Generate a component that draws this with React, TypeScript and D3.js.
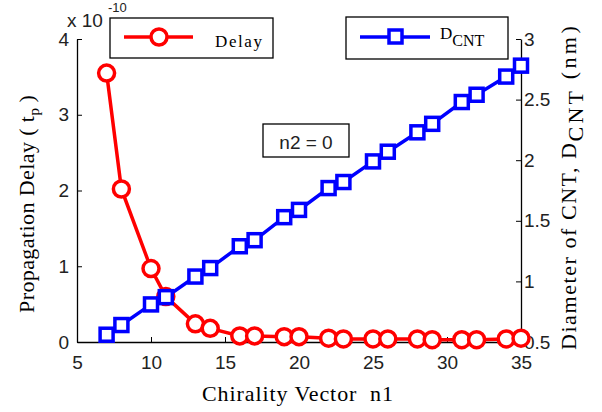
import React, { useEffect, useRef } from "react";
import * as d3 from "d3";

// chirality (n1, 0) tubes
const n1 = [7, 8, 10, 11, 13, 14, 16, 17, 19, 20, 22, 23, 25, 26, 28, 29, 31, 32, 34, 35];
// propagation delay, x 1e-10 s
const delay = [3.55, 2.02, 0.97, 0.6, 0.24, 0.18, 0.08, 0.08, 0.07, 0.07, 0.05, 0.04, 0.04, 0.04, 0.04, 0.03, 0.03, 0.03, 0.04, 0.05];
// diameter, nm
const dcnt = [0.56, 0.64, 0.81, 0.87, 1.04, 1.11, 1.29, 1.34, 1.53, 1.59, 1.77, 1.82, 1.99, 2.07, 2.23, 2.3, 2.48, 2.54, 2.69, 2.78];

const xTicks = [5, 10, 15, 20, 25, 30, 35];
const leftTicks = [0, 1, 2, 3, 4];
const rightTicks = [0.5, 1, 1.5, 2, 2.5, 3];

const W = 602, H = 412;
const SANS = "'Liberation Sans', Arial, sans-serif";
const SERIF = "'Liberation Serif', 'Times New Roman', serif";

export default function App() {
  const ref = useRef<SVGSVGElement>(null);

  useEffect(() => {
    const svg = d3.select(ref.current);
    svg.selectAll("*").remove();

    const left = 77, right = 521, top = 39, bottom = 342;
    const x = d3.scaleLinear().domain([5, 35]).range([left, right]);
    const yL = d3.scaleLinear().domain([0, 4]).range([bottom, top]);
    const yR = d3.scaleLinear().domain([0.5, 3]).range([bottom, top]);

    // axes (inward ticks, no top line)
    const gx = svg.append("g").attr("transform", `translate(0,${bottom})`)
      .call(d3.axisTop(x).tickValues(xTicks).tickSize(5).tickSizeOuter(0).tickFormat(d3.format("d")));
    gx.selectAll("text").remove();
    gx.selectAll(".tick").append("text").attr("y", 27).attr("text-anchor", "middle")
      .attr("fill", "#000").text((d: any) => d);

    const gl = svg.append("g").attr("transform", `translate(${left},0)`)
      .call(d3.axisRight(yL).tickValues(leftTicks).tickSize(5).tickSizeOuter(0).tickFormat(d3.format("d")));
    gl.selectAll(".tick text").attr("x", -8).attr("text-anchor", "end");

    const gr = svg.append("g").attr("transform", `translate(${right},0)`)
      .call(d3.axisLeft(yR).tickValues(rightTicks).tickSize(5).tickSizeOuter(0).tickFormat((d: any) => String(d)));
    gr.selectAll(".tick text").attr("x", 3).attr("text-anchor", "start");

    svg.selectAll(".domain").attr("stroke", "#000").attr("stroke-width", 1.3);
    svg.selectAll(".tick line").attr("stroke", "#000");
    svg.selectAll(".tick text").attr("font-family", SANS).attr("font-size", 19).attr("fill", "#222");

    // delay series
    const pts = n1.map((n, i) => ({ n, d: delay[i], r: dcnt[i] }));
    svg.append("path").datum(pts)
      .attr("d", d3.line<any>().x(p => x(p.n)).y(p => yL(p.d)))
      .attr("fill", "none").attr("stroke", "#ff0000").attr("stroke-width", 3.5);
    svg.append("g").selectAll("circle").data(pts).join("circle")
      .attr("cx", p => x(p.n)).attr("cy", p => yL(p.d)).attr("r", 8)
      .attr("fill", "#fff").attr("stroke", "#ff0000").attr("stroke-width", 3.5);

    // diameter series
    svg.append("path").datum(pts)
      .attr("d", d3.line<any>().x(p => x(p.n)).y(p => yR(p.r)))
      .attr("fill", "none").attr("stroke", "#0000ff").attr("stroke-width", 3.5);
    svg.append("g").selectAll("rect").data(pts).join("rect")
      .attr("x", p => x(p.n) - 6.5).attr("y", p => yR(p.r) - 6.5)
      .attr("width", 13).attr("height", 13)
      .attr("fill", "#fff").attr("stroke", "#0000ff").attr("stroke-width", 3.5);

    // exponent
    svg.append("text").attr("x", 67).attr("y", 27).attr("font-family", SANS).attr("font-size", 19)
      .attr("fill", "#222").text("x 10");
    svg.append("text").attr("x", 108).attr("y", 12).attr("font-family", SANS).attr("font-size", 13)
      .attr("fill", "#222").text("-10");

    // legend: Delay
    svg.append("rect").attr("x", 110).attr("y", 18).attr("width", 163).attr("height", 40)
      .attr("fill", "#fff").attr("stroke", "#000").attr("stroke-width", 1.3);
    svg.append("line").attr("x1", 124).attr("x2", 193).attr("y1", 37).attr("y2", 37)
      .attr("stroke", "#ff0000").attr("stroke-width", 3.5);
    svg.append("circle").attr("cx", 159).attr("cy", 37).attr("r", 8)
      .attr("fill", "#fff").attr("stroke", "#ff0000").attr("stroke-width", 3.5);
    svg.append("text").attr("x", 215).attr("y", 47).attr("font-family", SERIF).attr("font-size", 17)
      .attr("textLength", 47).attr("fill", "#000").text("Delay");

    // legend: D_CNT
    svg.append("rect").attr("x", 346).attr("y", 17).attr("width", 162).attr("height", 42)
      .attr("fill", "#fff").attr("stroke", "#000").attr("stroke-width", 1.3);
    svg.append("line").attr("x1", 360).attr("x2", 430).attr("y1", 37).attr("y2", 37)
      .attr("stroke", "#0000ff").attr("stroke-width", 3.5);
    svg.append("rect").attr("x", 389).attr("y", 30).attr("width", 13).attr("height", 13)
      .attr("fill", "#fff").attr("stroke", "#0000ff").attr("stroke-width", 3.5);
    const lt = svg.append("text").attr("x", 440).attr("y", 39).attr("font-family", SERIF)
      .attr("font-size", 17).attr("fill", "#000");
    lt.append("tspan").text("D");
    lt.append("tspan").attr("dy", 7).attr("font-size", 16).text("CNT");

    // annotation
    svg.append("rect").attr("x", 263).attr("y", 124).attr("width", 86).attr("height", 33)
      .attr("fill", "#fff").attr("stroke", "#000").attr("stroke-width", 1.3);
    svg.append("text").attr("x", 306).attr("y", 149).attr("text-anchor", "middle")
      .attr("font-family", SANS).attr("font-size", 19).attr("fill", "#222").text("n2 = 0");

    // axis titles
    svg.append("text").attr("x", 202).attr("y", 401)
      .attr("font-family", SERIF).attr("font-size", 22).attr("fill", "#000")
      .attr("textLength", 191).attr("xml:space", "preserve").text("Chirality Vector  n1");

    const ll = svg.append("text").attr("transform", "translate(34,313) rotate(-90)")
      .attr("font-family", SERIF).attr("font-size", 22).attr("fill", "#000");
    ll.append("tspan").attr("textLength", 197).text("Propagation Delay ( t");
    ll.append("tspan").attr("dy", 5).attr("font-size", 15).text("p");
    ll.append("tspan").attr("dy", -5).text(" )");

    const rl = svg.append("text").attr("transform", "translate(576,350) rotate(-90)")
      .attr("font-family", SERIF).attr("font-size", 22).attr("fill", "#000");
    rl.append("tspan").attr("textLength", 207).text("Diameter of CNT, D");
    rl.append("tspan").attr("dy", 7).attr("textLength", 50).text("CNT");
    rl.append("tspan").attr("dy", -7).attr("textLength", 62).text(" (nm)");
  }, []);

  return (
    <svg ref={ref} width={W} height={H}
      style={{ position: "absolute", left: 0, top: 0, background: "#fff" }} />
  );
}
